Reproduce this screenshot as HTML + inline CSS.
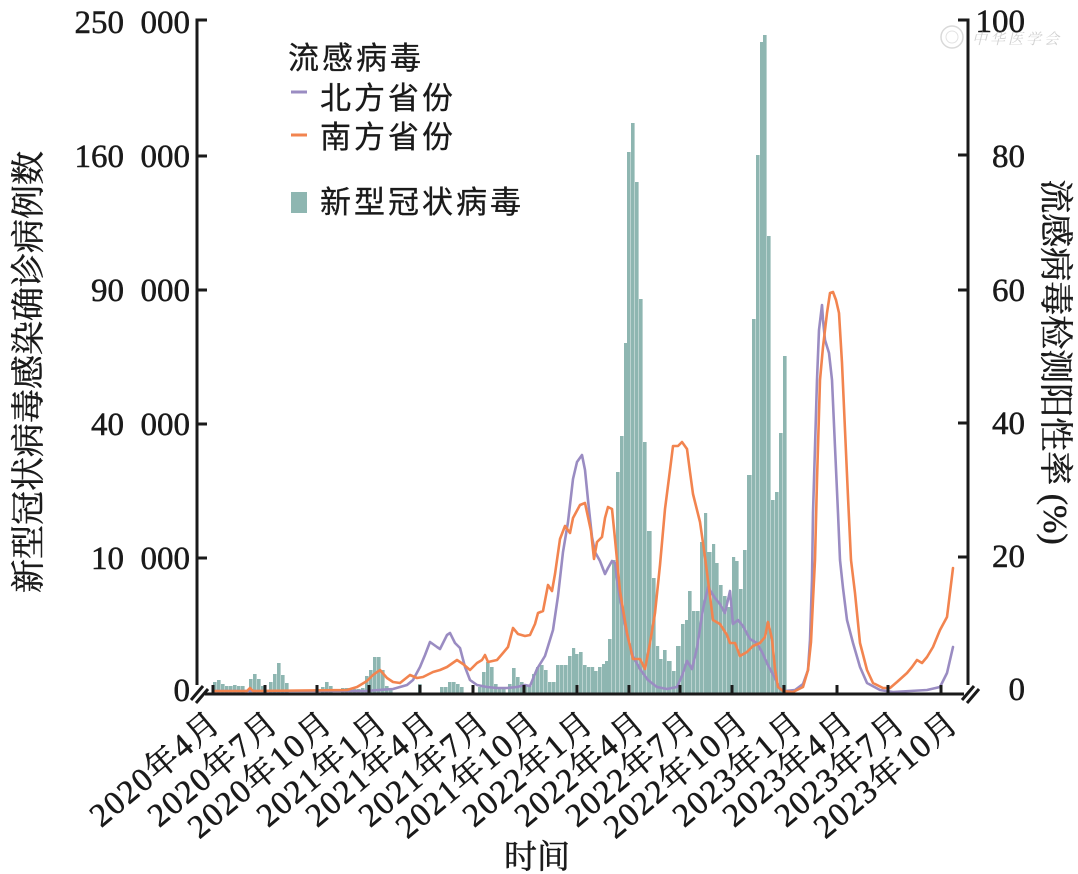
<!DOCTYPE html>
<html><head><meta charset="utf-8"><style>
html,body{margin:0;padding:0;background:#fff;}
svg{display:block;}
.ser{font-family:"Liberation Serif","Noto Serif CJK SC",serif;fill:#1a1a1a;stroke:#1a1a1a;stroke-width:0.5;}
.san{font-family:"Liberation Sans","Noto Sans CJK SC",sans-serif;fill:#1a1a1a;stroke:#1a1a1a;stroke-width:0.3;}
</style></head><body>
<svg width="1078" height="874" viewBox="0 0 1078 874" xmlns="http://www.w3.org/2000/svg">
<rect width="1078" height="874" fill="#fff"/>
<g fill="#8eb6b1">
<rect x="213" y="682" width="3.6" height="11"/><rect x="217" y="680" width="3.6" height="13"/><rect x="221" y="684" width="3.6" height="9"/><rect x="225" y="686" width="3.6" height="7"/><rect x="229" y="686" width="3.6" height="7"/><rect x="233" y="685" width="3.6" height="8"/><rect x="237" y="686" width="3.6" height="7"/><rect x="241" y="686" width="3.6" height="7"/>
<rect x="249" y="679" width="3.6" height="14"/><rect x="253" y="674" width="3.6" height="19"/><rect x="257" y="679" width="3.6" height="14"/><rect x="261" y="686" width="3.6" height="7"/>
<rect x="269" y="682" width="3.6" height="11"/><rect x="273" y="674" width="3.6" height="19"/><rect x="277" y="663" width="3.6" height="30"/><rect x="281" y="675" width="3.6" height="18"/><rect x="285" y="683" width="3.6" height="10"/>
<rect x="321" y="687" width="3.6" height="6"/><rect x="325" y="682" width="3.6" height="11"/><rect x="329" y="686" width="3.6" height="7"/>
<rect x="341" y="688" width="3.6" height="5"/><rect x="345" y="688" width="3.6" height="5"/><rect x="349" y="689" width="3.6" height="4"/><rect x="353" y="689" width="3.6" height="4"/><rect x="357" y="689" width="3.6" height="4"/><rect x="361" y="688" width="3.6" height="5"/>
<rect x="365" y="676" width="3.6" height="17"/><rect x="369" y="670" width="3.6" height="23"/><rect x="373" y="657" width="3.6" height="36"/><rect x="377" y="657" width="3.6" height="36"/><rect x="381" y="670" width="3.6" height="23"/><rect x="385" y="686" width="3.6" height="7"/><rect x="389" y="689" width="3.6" height="4"/>
<rect x="418" y="684" width="3.6" height="9"/>
<rect x="440" y="687" width="3.6" height="6"/><rect x="444" y="687" width="3.6" height="6"/><rect x="448" y="682" width="3.6" height="11"/><rect x="452" y="682" width="3.6" height="11"/><rect x="456" y="684" width="3.6" height="9"/><rect x="460" y="687" width="3.6" height="6"/>
<rect x="478" y="687" width="3.6" height="6"/><rect x="482" y="672" width="3.6" height="21"/><rect x="486" y="662" width="3.6" height="31"/><rect x="490" y="667" width="3.6" height="26"/><rect x="494" y="684" width="3.6" height="9"/><rect x="498" y="688" width="3.6" height="5"/><rect x="502" y="688" width="3.6" height="5"/>
<rect x="508" y="684" width="3.6" height="9"/><rect x="512" y="668" width="3.6" height="25"/><rect x="516" y="677" width="3.6" height="16"/><rect x="520" y="682" width="3.6" height="11"/><rect x="524" y="686" width="3.6" height="7"/><rect x="528" y="686" width="3.6" height="7"/>
<rect x="532" y="674" width="3.6" height="19"/><rect x="536" y="667" width="3.6" height="26"/><rect x="540" y="665" width="3.6" height="28"/><rect x="544" y="670" width="3.6" height="23"/><rect x="548" y="682" width="3.6" height="11"/><rect x="552" y="682" width="3.6" height="11"/>
<rect x="556" y="665" width="3.6" height="28"/><rect x="560" y="665" width="3.6" height="28"/><rect x="564" y="665" width="3.6" height="28"/><rect x="568" y="656" width="3.6" height="37"/><rect x="572" y="648" width="3.2" height="45"/><rect x="575" y="654" width="3.6" height="39"/><rect x="579" y="652" width="3.6" height="41"/>
<rect x="583" y="665" width="3.6" height="28"/><rect x="587" y="667" width="3.6" height="26"/><rect x="591" y="667" width="3.2" height="26"/><rect x="594" y="671" width="3.6" height="22"/><rect x="598" y="667" width="3.6" height="26"/><rect x="602" y="664" width="3.2" height="29"/><rect x="605" y="661" width="3.2" height="32"/>
<rect x="608" y="639" width="3.6" height="54"/><rect x="612" y="560" width="3.6" height="133"/><rect x="616" y="472" width="3.6" height="221"/><rect x="620" y="436" width="3.6" height="257"/><rect x="624" y="343" width="3.2" height="350"/><rect x="627" y="152" width="3.6" height="541"/><rect x="631" y="123" width="3.6" height="570"/><rect x="635" y="182" width="3.6" height="511"/>
<rect x="639" y="299" width="3.6" height="394"/><rect x="643" y="442" width="3.6" height="251"/><rect x="647" y="531" width="4.6" height="162"/><rect x="652" y="578" width="3.6" height="115"/><rect x="656" y="646" width="3.2" height="47"/><rect x="659" y="659" width="3.6" height="34"/><rect x="663" y="650" width="3.6" height="43"/><rect x="667" y="661" width="4.6" height="32"/>
<rect x="672" y="671" width="3.6" height="22"/><rect x="676" y="646" width="4.6" height="47"/><rect x="681" y="624" width="3.6" height="69"/><rect x="685" y="620" width="3.2" height="73"/><rect x="688" y="591" width="3.6" height="102"/><rect x="692" y="611" width="3.6" height="82"/><rect x="696" y="611" width="3.6" height="82"/>
<rect x="700" y="542" width="3.6" height="151"/><rect x="704" y="513" width="3.2" height="180"/><rect x="707" y="552" width="4.6" height="141"/><rect x="712" y="544" width="3.2" height="149"/><rect x="715" y="563" width="3.6" height="130"/><rect x="719" y="585" width="3.6" height="108"/><rect x="723" y="596" width="3.6" height="97"/><rect x="727" y="607" width="4.6" height="86"/>
<rect x="732" y="557" width="3.2" height="136"/><rect x="735" y="561" width="3.6" height="132"/><rect x="739" y="589" width="3.6" height="104"/><rect x="743" y="550" width="3.6" height="143"/><rect x="747" y="475" width="4.6" height="218"/><rect x="752" y="319" width="3.6" height="374"/><rect x="756" y="155" width="3.6" height="538"/><rect x="760" y="42" width="3.2" height="651"/><rect x="763" y="35" width="3.6" height="658"/>
<rect x="767" y="236" width="3.6" height="457"/><rect x="771" y="500" width="3.6" height="193"/><rect x="775" y="492" width="3.6" height="201"/><rect x="779" y="433" width="3.6" height="260"/><rect x="783" y="356" width="3.6" height="337"/>
</g>
<polyline fill="none" stroke="#9a8cc2" stroke-width="2.6" stroke-linejoin="round" stroke-linecap="round" points="213,691 365,691 393,689 407,685 413,680 420,667 425,655 430,642 437,647 440,649 447,635 450,633 455,643 460,648 465,667 470,680 477,685 487,687 497,688 507,688 517,687 525,685 530,686 537,669 545,656 553,630 558,596 563,552 568,522 573,479 577,462 582,455 585,470 588,500 592,537 595,552 600,561 605,574 608,568 612,561 615,563 618,587 622,609 627,635 633,656 640,669 648,680 657,687 667,689 677,687 682,676 687,661 692,669 697,648 703,609 708,587 715,598 720,604 725,613 730,591 733,624 738,620 743,626 750,639 757,643 762,652 768,665 775,678 780,689 785,691 795,690 803,684 808,670 810,640 812,580 813,513 815,447 817,380 819,330 822,305 823,320 825,340 829,353 832,380 835,447 838,513 840,560 843,588 847,620 853,643 860,667 867,683 880,690 893,692 927,690 940,687 947,673 953,647"/>
<polyline fill="none" stroke="#f2844f" stroke-width="2.6" stroke-linejoin="round" stroke-linecap="round" points="213,691 247,691 250,688 253,691 347,690 357,687 367,681 373,675 380,670 387,678 393,682 400,683 410,675 417,678 423,677 433,672 440,670 447,667 457,660 463,664 470,670 477,663 482,660 485,655 488,662 497,660 503,653 508,647 513,628 518,634 525,636 530,635 535,624 538,613 543,611 548,585 552,591 555,574 560,539 565,526 570,533 573,518 580,505 585,503 591,531 594,559 597,542 602,537 605,518 608,507 612,509 615,539 620,591 627,633 633,659 640,659 645,669 650,643 655,613 660,565 665,509 670,470 673,446 678,446 682,442 687,449 690,472 693,494 700,522 705,557 710,596 713,620 720,624 727,635 730,643 735,643 740,656 747,652 753,646 760,643 765,637 768,622 772,639 775,669 778,687 783,691 793,692 803,687 808,670 811,642 813,600 815,560 817,480 820,380 823,347 827,313 830,293 833,292 836,300 839,313 842,363 845,430 848,497 851,560 855,593 860,643 867,670 873,683 883,688 890,688 897,682 907,673 912,667 917,660 922,663 927,657 933,647 940,630 947,617 953,568"/>
<g stroke="#1a1a1a" stroke-width="3" fill="none">
<line x1="197" y1="18.5" x2="197" y2="685"/>
<line x1="196" y1="20" x2="207" y2="20"/>
<line x1="197" y1="156" x2="207" y2="156"/>
<line x1="197" y1="290" x2="207" y2="290"/>
<line x1="197" y1="424" x2="207" y2="424"/>
<line x1="197" y1="558" x2="207" y2="558"/>
<line x1="968" y1="18.5" x2="968" y2="685"/>
<line x1="969" y1="20" x2="958" y2="20"/>
<line x1="968" y1="155" x2="958" y2="155"/>
<line x1="968" y1="290" x2="958" y2="290"/>
<line x1="968" y1="423" x2="958" y2="423"/>
<line x1="968" y1="557" x2="958" y2="557"/>
<line x1="205" y1="694" x2="964" y2="694"/>
<line x1="191" y1="700" x2="203" y2="686"/>
<line x1="196" y1="703" x2="208" y2="689"/>
<line x1="962" y1="700" x2="974" y2="686"/>
<line x1="967" y1="703" x2="979" y2="689"/>
<line x1="213" y1="685" x2="213" y2="694"/>
<line x1="265" y1="685" x2="265" y2="694"/>
<line x1="317" y1="685" x2="317" y2="694"/>
<line x1="369" y1="685" x2="369" y2="694"/>
<line x1="420" y1="685" x2="420" y2="694"/>
<line x1="473" y1="685" x2="473" y2="694"/>
<line x1="524" y1="685" x2="524" y2="694"/>
<line x1="577" y1="685" x2="577" y2="694"/>
<line x1="629" y1="685" x2="629" y2="694"/>
<line x1="680" y1="685" x2="680" y2="694"/>
<line x1="732" y1="685" x2="732" y2="694"/>
<line x1="784" y1="685" x2="784" y2="694"/>
<line x1="837" y1="685" x2="837" y2="694"/>
<line x1="888" y1="685" x2="888" y2="694"/>
<line x1="941" y1="685" x2="941" y2="694"/>
</g>
<g class="ser" font-size="33" text-anchor="end">
<text x="190" y="33">250&#8194;000</text>
<text x="190" y="167">160&#8194;000</text>
<text x="190" y="301">90&#8194;000</text>
<text x="190" y="435">40&#8194;000</text>
<text x="190" y="569">10&#8194;000</text>
<text x="190" y="701">0</text>
<text x="1025" y="32">100</text>
<text x="1025" y="167">80</text>
<text x="1025" y="301">60</text>
<text x="1025" y="434">40</text>
<text x="1025" y="567">20</text>
<text x="1025" y="700">0</text>
</g>
<g class="ser" font-size="33" text-anchor="end" letter-spacing="1.5">
<text transform="translate(223,726) rotate(-40)">2020年4月</text>
<text transform="translate(281,726) rotate(-40)">2020年7月</text>
<text transform="translate(335,726) rotate(-40)">2020年10月</text>
<text transform="translate(390,726) rotate(-40)">2021年1月</text>
<text transform="translate(439,726) rotate(-40)">2021年4月</text>
<text transform="translate(492,726) rotate(-40)">2021年7月</text>
<text transform="translate(543,726) rotate(-40)">2021年10月</text>
<text transform="translate(596,726) rotate(-40)">2022年1月</text>
<text transform="translate(648,726) rotate(-40)">2022年4月</text>
<text transform="translate(699,726) rotate(-40)">2022年7月</text>
<text transform="translate(751,726) rotate(-40)">2022年10月</text>
<text transform="translate(806,726) rotate(-40)">2023年1月</text>
<text transform="translate(856,726) rotate(-40)">2023年4月</text>
<text transform="translate(908,726) rotate(-40)">2023年7月</text>
<text transform="translate(961,726) rotate(-40)">2023年10月</text>
</g>
<text class="ser" x="537" y="868" font-size="33" text-anchor="middle">时间</text>
<text class="ser" font-size="34" text-anchor="middle" transform="translate(40,372) rotate(-90)">新型冠状病毒感染确诊病例数</text>
<text class="ser" font-size="34" text-anchor="middle" transform="translate(1044,362) rotate(90)">流感病毒检测阳性率 (%)</text>
<g class="san" font-size="31" letter-spacing="3">
<text x="288" y="69">流感病毒</text>
<text x="320" y="109">北方省份</text>
<text x="320" y="148">南方省份</text>
<text x="320" y="213">新型冠状病毒</text>
</g>
<line x1="291" y1="92" x2="307" y2="92" stroke="#9a8cc2" stroke-width="3"/>
<line x1="291" y1="135" x2="307" y2="135" stroke="#f2844f" stroke-width="3"/>
<rect x="291" y="192" width="16" height="21" fill="#8eb6b1"/>
<g opacity="0.55">
<circle cx="952" cy="37" r="11" fill="none" stroke="#bbb" stroke-width="1.5"/>
<circle cx="952" cy="37" r="6" fill="none" stroke="#ccc" stroke-width="1"/>
<text x="972" y="44" font-size="15" font-style="italic" fill="#aaa" letter-spacing="3" font-family="'Liberation Serif','Noto Serif CJK SC',serif">中华医学会</text>
</g>
</svg>
</body></html>
